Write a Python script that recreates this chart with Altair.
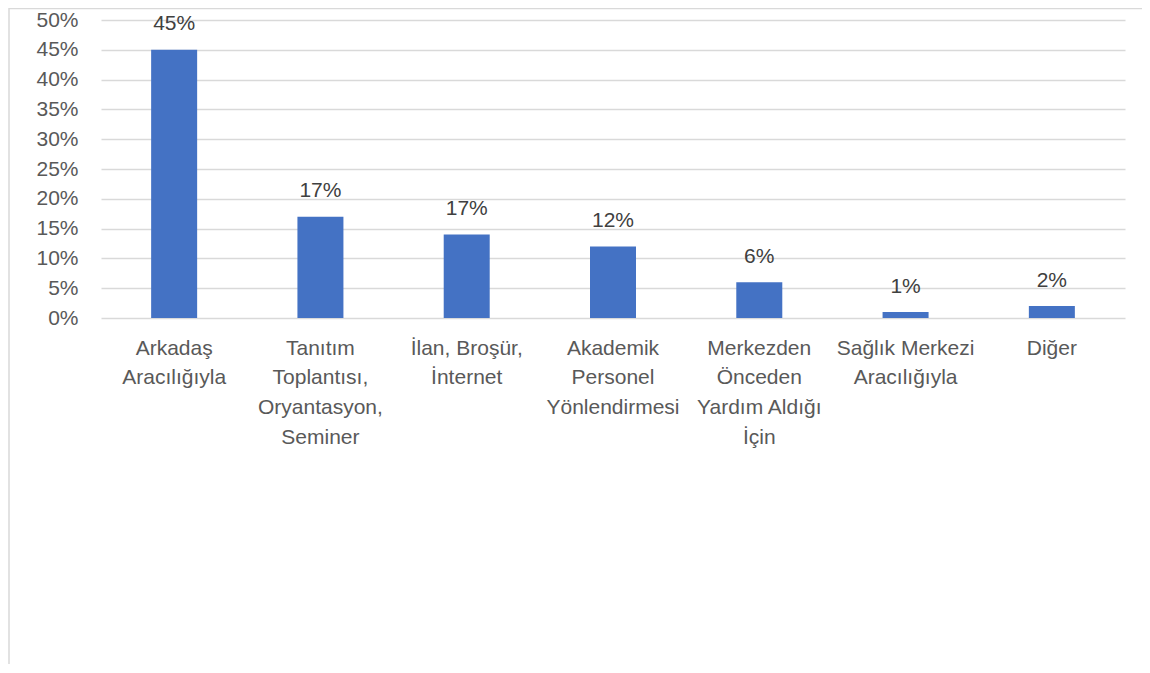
import altair as alt
import pandas as pd

categories = [
    "Arkadaş\nAracılığıyla",
    "Tanıtım\nToplantısı,\nOryantasyon,\nSeminer",
    "İlan, Broşür,\nİnternet",
    "Akademik\nPersonel\nYönlendirmesi",
    "Merkezden\nÖnceden\nYardım Aldığı\nİçin",
    "Sağlık Merkezi\nAracılığıyla",
    "Diğer",
]
values = [45, 17, 14, 12, 6, 1, 2]
label_texts = ["45%", "17%", "17%", "12%", "6%", "1%", "2%"]
y_ticks = [0, 5, 10, 15, 20, 25, 30, 35, 40, 45, 50]

df = pd.DataFrame({"cat": categories, "val": values, "lab": label_texts})

FONT = "Liberation Sans"
FS = 21
W, H = 1024, 298

base = alt.Chart(df)

x = alt.X("cat:N", sort=categories, title=None,
          scale=alt.Scale(paddingInner=0, paddingOuter=0),
          axis=alt.Axis(labelAngle=0, labelExpr="split(datum.label, '\\n')",
                        labelFont=FONT, labelFontSize=FS, labelColor="#595959",
                        labelLineHeight=29.7, labelPadding=19, labelLimit=0,
                        labelOverlap=False,
                        ticks=False, domain=False, grid=False, labelBaseline="top"))
y = alt.Y("val:Q", title=None,
          scale=alt.Scale(domain=[0, 50], nice=False, zero=True),
          axis=alt.Axis(values=y_ticks, labelExpr="datum.value + '%'",
                        labelFont=FONT, labelFontSize=FS, labelColor="#595959",
                        labelPadding=23, labelOverlap=False, ticks=False, domain=False,
                        grid=True, gridColor="#d9d9d9", gridWidth=1.3))

bars = base.mark_bar(color="#4472C4", size=46).encode(x=x, y=y)

texts = base.mark_text(font=FONT, fontSize=FS, color="#404040",
                       baseline="middle", dy=-25.5).encode(
    x=x,
    y=y,
    text="lab:N",
)

frame_top = alt.Chart(pd.DataFrame({"k": [0]})).mark_rule(
    color="#d9d9d9", strokeWidth=1.5).encode(
    x=alt.value(-92), x2=alt.value(1041), y=alt.value(-11.5))
frame_left = alt.Chart(pd.DataFrame({"k": [0]})).mark_rule(
    color="#d9d9d9", strokeWidth=1.5).encode(
    x=alt.value(-92), y=alt.value(-12), y2=alt.value(700))

chart = alt.layer(bars, texts, frame_top, frame_left).properties(
    width=W, height=H,
    autosize=alt.AutoSizeParams(type="none"),
    padding={"left": 93, "top": 12, "right": 17, "bottom": 346},
).configure_view(stroke=None)

chart.save("out.html", embed_options={"renderer": "svg", "actions": False})
